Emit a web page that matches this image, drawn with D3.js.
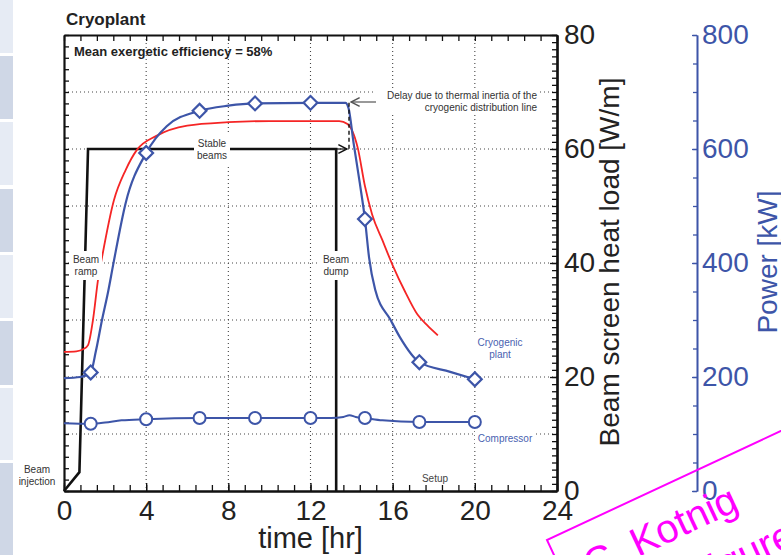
<!DOCTYPE html>
<html>
<head>
<meta charset="utf-8">
<script src="https://cdn.jsdelivr.net/npm/d3@7"></script>
<style>
  body { margin: 0; background: #fff; }
  svg { display: block; font-family: "Liberation Sans", Arial, sans-serif; }
</style>
</head>
<body>
<div class="chart"></div>
<script>
var svgWidth = 781;
var svgHeight = 555;

// data
var xTicks = [0, 4, 8, 12, 16, 20, 24];
var heatTicks = [0, 20, 40, 60, 80];
var powerTicks = [0, 200, 400, 600, 800];

var plantT  = [0, 0.8, 1.3, 1.55, 1.85, 2.15, 2.4, 3.0, 4, 5, 6.6, 8, 9.3, 12, 13.7, 13.85, 14.1, 14.4, 14.65, 14.85, 15.15, 15.9, 16.35, 17.3, 18.8, 20];
var plantKW = [198, 200, 208, 245, 300, 350, 398, 505, 593, 640, 667, 676, 680, 681, 681, 672, 610, 540, 477, 410, 353, 300, 270, 226, 209, 196];

var heatT  = [0, 0.6, 0.95, 1.17, 1.41, 1.67, 1.8, 2.43, 3.0, 3.54, 4.5, 6, 8, 10, 13.4, 13.8, 14.3, 14.65, 15.0, 15.5, 16, 16.6, 17.2, 17.7, 18.2];
var heatWm = [24.4, 24.5, 24.9, 25.6, 30, 37.4, 40, 51, 56.3, 59.8, 62.3, 64.1, 64.7, 64.9, 64.9, 64.4, 60.2, 53.5, 48.5, 44, 39.6, 35, 31, 29, 27.3];

var compT  = [0, 1.3, 2.0, 2.8, 4, 6.6, 9.3, 12, 13.0, 13.6, 13.9, 14.2, 14.65, 15.5, 17.3, 20];
var compKW = [119, 118, 120, 124, 126, 128, 128, 128, 128, 130, 133, 130, 128, 124, 121, 121];

var beamT  = [0, 0.75, 1.17, 13.25, 13.25];
var beamWm = [0, 3.3, 60, 60, 0];

var markT       = [1.3, 4, 6.6, 9.3, 12, 14.65, 17.3, 20];
var plantMarkKW = [208, 593, 667, 680, 681, 477, 226, 196];
var compMarkKW  = [118, 126, 128, 128, 128, 128, 121, 121];

var blue = "#3d55a8";
var red = "#f52525";
var ink = "#111";

var svg = d3.select(".chart")
  .append("svg")
  .attr("width", svgWidth)
  .attr("height", svgHeight);

// slide side strip
var strips = [[0, 53, "#e6ebf4"], [56, 119, "#cfd7e6"], [122, 185, "#e6ebf4"], [189, 252, "#cfd7e6"],
  [255, 318, "#e6ebf4"], [321, 385, "#cfd7e6"], [388, 460, "#e6ebf4"], [463, 555, "#cfd7e6"]];
svg.selectAll("rect.strip")
  .data(strips)
  .enter()
  .append("rect")
  .attr("class", "strip")
  .attr("x", 0)
  .attr("y", d => d[0])
  .attr("width", 13)
  .attr("height", d => d[1] - d[0])
  .attr("fill", d => d[2]);

var x = d3.scaleLinear().domain([0, 24]).range([64, 557]);
var yHeat = d3.scaleLinear().domain([0, 80]).range([491, 35]);
var yPow = d3.scaleLinear().domain([0, 800]).range([491, 35]);

// grid
var grid = svg.append("g")
  .attr("stroke", "#444")
  .attr("stroke-width", 1.1)
  .attr("stroke-dasharray", "1,3");
grid.selectAll("line.h")
  .data(d3.range(10, 80, 10))
  .enter()
  .append("line")
  .attr("x1", x(0)).attr("x2", x(24))
  .attr("y1", d => yHeat(d)).attr("y2", d => yHeat(d));
grid.selectAll("line.v")
  .data(xTicks.slice(1, -1))
  .enter()
  .append("line")
  .attr("x1", d => x(d)).attr("x2", d => x(d))
  .attr("y1", yHeat(80)).attr("y2", yHeat(0));

// axes
function styleAxis(g, color, width) {
  g.select(".domain").attr("stroke", color).attr("stroke-width", width);
  g.selectAll(".tick line").attr("stroke", color).attr("stroke-width", 1.3);
}

var bottomMinor = svg.append("g")
  .attr("transform", `translate(0, ${yHeat(0)})`)
  .call(d3.axisBottom(x).tickValues(d3.range(0, 24.01, 0.8)).tickSize(-6).tickSizeOuter(0).tickFormat(""));
styleAxis(bottomMinor, ink, 2.2);

var bottomAxis = svg.append("g")
  .attr("transform", `translate(0, ${yHeat(0)})`)
  .call(d3.axisBottom(x).tickValues(xTicks).tickSize(-8).tickSizeOuter(0).tickPadding(9).tickFormat(d3.format("d")));
styleAxis(bottomAxis, ink, 2.2);
bottomAxis.selectAll("text").attr("font-size", 28).attr("fill", "#222").attr("font-family", "Liberation Sans, Arial");

var topAxis = svg.append("g")
  .attr("transform", `translate(0, ${yHeat(80)})`)
  .call(d3.axisTop(x).tickValues(d3.range(0, 24.01, 0.8)).tickSize(-6).tickSizeOuter(0).tickFormat(""));
styleAxis(topAxis, ink, 2.2);

var leftAxis = svg.append("g")
  .attr("transform", `translate(${x(0)}, 0)`)
  .call(d3.axisLeft(yHeat).tickValues(d3.range(0, 80.01, 2)).tickSize(-5).tickSizeOuter(0).tickFormat(""));
styleAxis(leftAxis, ink, 2.2);

var rightMinor = svg.append("g")
  .attr("transform", `translate(${x(24)}, 0)`)
  .call(d3.axisRight(yHeat).tickValues(d3.range(0, 80.01, 1.25)).tickSize(-5).tickSizeOuter(0).tickFormat(""));
styleAxis(rightMinor, ink, 2.2);

var rightAxis = svg.append("g")
  .attr("transform", `translate(${x(24)}, 0)`)
  .call(d3.axisRight(yHeat).tickValues(heatTicks).tickSize(-7).tickSizeOuter(0).tickPadding(7).tickFormat(d3.format("d")));
styleAxis(rightAxis, ink, 2.2);
rightAxis.selectAll("text").attr("font-size", 28).attr("fill", "#222").attr("font-family", "Liberation Sans, Arial");

var powMinor = svg.append("g")
  .attr("transform", "translate(697, 0)")
  .call(d3.axisRight(yPow).tickValues(d3.range(0, 800.1, 50)).tickSize(-4).tickSizeOuter(0).tickFormat(""));
styleAxis(powMinor, blue, 1.6);

var powAxis = svg.append("g")
  .attr("transform", "translate(697, 0)")
  .call(d3.axisRight(yPow).tickValues(powerTicks).tickSize(-5).tickSizeOuter(0).tickPadding(5).tickFormat(d3.format("d")));
styleAxis(powAxis, blue, 1.6);
powAxis.selectAll("text").attr("font-size", 28).attr("fill", blue).attr("font-family", "Liberation Sans, Arial");

// axis titles
svg.append("text")
  .attr("transform", `translate(${x(12)}, 548)`)
  .attr("text-anchor", "middle")
  .attr("font-size", 29)
  .attr("fill", "#222")
  .text("time [hr]");

svg.append("text")
  .attr("transform", "translate(619, 262) rotate(-90)")
  .attr("text-anchor", "middle")
  .attr("font-size", 28)
  .attr("fill", "#222")
  .text("Beam screen heat load [W/m]");

svg.append("text")
  .attr("transform", "translate(777, 262) rotate(-90)")
  .attr("text-anchor", "middle")
  .attr("font-size", 28)
  .attr("fill", blue)
  .text("Power [kW]");

// titles
svg.append("text")
  .attr("x", 66).attr("y", 25)
  .attr("font-size", 17).attr("font-weight", "bold").attr("fill", "#222")
  .text("Cryoplant");

svg.append("text")
  .attr("x", 74).attr("y", 56)
  .attr("font-size", 13).attr("font-weight", "bold").attr("fill", "#222")
  .text("Mean exergetic efficiency = 58%");

// series lines
var beamLine = d3.line().x((d, i) => x(beamT[i])).y(d => yHeat(d));
svg.append("path")
  .datum(beamWm)
  .attr("d", beamLine)
  .attr("fill", "none").attr("stroke", ink).attr("stroke-width", 2.6);

var heatLine = d3.line().curve(d3.curveMonotoneX).x((d, i) => x(heatT[i])).y(d => yHeat(d));
svg.append("path")
  .datum(heatWm)
  .attr("d", heatLine)
  .attr("fill", "none").attr("stroke", red).attr("stroke-width", 1.8);

var plantLine = d3.line().curve(d3.curveMonotoneX).x((d, i) => x(plantT[i])).y(d => yPow(d));
svg.append("path")
  .datum(plantKW)
  .attr("d", plantLine)
  .attr("fill", "none").attr("stroke", blue).attr("stroke-width", 2.2);

var compLine = d3.line().curve(d3.curveMonotoneX).x((d, i) => x(compT[i])).y(d => yPow(d));
svg.append("path")
  .datum(compKW)
  .attr("d", compLine)
  .attr("fill", "none").attr("stroke", blue).attr("stroke-width", 2);

// delay annotation
var marker = svg.append("defs");
marker.append("marker")
  .attr("id", "open")
  .attr("viewBox", "0 0 10 10")
  .attr("refX", 9).attr("refY", 5)
  .attr("markerWidth", 9).attr("markerHeight", 9)
  .attr("orient", "auto")
  .append("path")
  .attr("d", "M1,1 L9,5 L1,9")
  .attr("fill", "none").attr("stroke", "context-stroke").attr("stroke-width", 1.4);

svg.append("line")
  .attr("x1", 349).attr("x2", 349)
  .attr("y1", yPow(681)).attr("y2", yHeat(60))
  .attr("stroke", ink).attr("stroke-width", 1.4).attr("stroke-dasharray", "4,3");

svg.append("line")
  .attr("x1", 378).attr("x2", 351)
  .attr("y1", 102).attr("y2", 102)
  .attr("stroke", "#555").attr("stroke-width", 1.2)
  .attr("marker-end", "url(#open)");

svg.append("line")
  .attr("x1", x(beamT[3])).attr("x2", 347)
  .attr("y1", yHeat(60)).attr("y2", yHeat(60))
  .attr("stroke", ink).attr("stroke-width", 1.2)
  .attr("marker-end", "url(#open)");

// markers
svg.selectAll("path.diamond")
  .data(plantMarkKW)
  .enter()
  .append("path")
  .attr("class", "diamond")
  .attr("d", d3.symbol().type(d3.symbolSquare).size(95))
  .attr("transform", (d, i) => `translate(${x(markT[i])}, ${yPow(d)}) rotate(45)`)
  .attr("fill", "#fff").attr("stroke", blue).attr("stroke-width", 2.2);

svg.selectAll("circle.comp")
  .data(compMarkKW)
  .enter()
  .append("circle")
  .attr("class", "comp")
  .attr("cx", (d, i) => x(markT[i]))
  .attr("cy", d => yPow(d))
  .attr("r", 6)
  .attr("fill", "#fff").attr("stroke", blue).attr("stroke-width", 2);

// labels with white backing
var notes = [
  { lines: ["Beam", "ramp"], cx: 86, y: 263, w: 32, color: "#333" },
  { lines: ["Beam", "dump"], cx: 336, y: 263, w: 32, color: "#333" },
  { lines: ["Stable", "beams"], cx: 212, y: 147, w: 36, color: "#333" },
  { lines: ["Beam", "injection"], cx: 37, y: 473, w: 0, color: "#333" },
  { lines: ["Setup"], cx: 435, y: 482, w: 0, color: "#444" },
  { lines: ["Cryogenic", "plant"], cx: 500, y: 346, w: 56, color: "#4a5fb0" },
  { lines: ["Compressor"], cx: 505, y: 442, w: 60, color: "#4a5fb0" }
];

notes.forEach(function (n) {
  if (n.w > 0) {
    svg.append("rect")
      .attr("x", n.cx - n.w / 2).attr("y", n.y - 12)
      .attr("width", n.w).attr("height", n.lines.length * 11.5 + 6)
      .attr("fill", "#fff");
  }
  var t = svg.append("text")
    .attr("text-anchor", "middle")
    .attr("font-size", 10)
    .attr("fill", n.color);
  n.lines.forEach(function (s, i) {
    t.append("tspan").attr("x", n.cx).attr("y", n.y + i * 11.5).text(s);
  });
});

svg.append("rect")
  .attr("x", 376).attr("y", 88).attr("width", 164).attr("height", 26)
  .attr("fill", "#fff");
var delay = svg.append("text")
  .attr("text-anchor", "end")
  .attr("font-size", 10)
  .attr("fill", "#333");
delay.append("tspan").attr("x", 537).attr("y", 99).text("Delay due to thermal inertia of the");
delay.append("tspan").attr("x", 537).attr("y", 110.5).text("cryogenic distribution line");

// pink stamp in the corner
var stamp = svg.append("g")
  .attr("transform", "translate(547, 540) rotate(-25)");
stamp.append("rect")
  .attr("x", 0).attr("y", 0).attr("width", 320).attr("height", 140)
  .attr("fill", "none").attr("stroke", "#ff00ff").attr("stroke-width", 2);
stamp.append("text")
  .attr("x", 24).attr("y", 54)
  .attr("font-size", 40).attr("fill", "#ff00ff")
  .text("C. Kotnig");
stamp.append("text")
  .attr("x", 112).attr("y", 110)
  .attr("font-size", 40).attr("fill", "#ff00ff")
  .text("Figure");
</script>
</body>
</html>
